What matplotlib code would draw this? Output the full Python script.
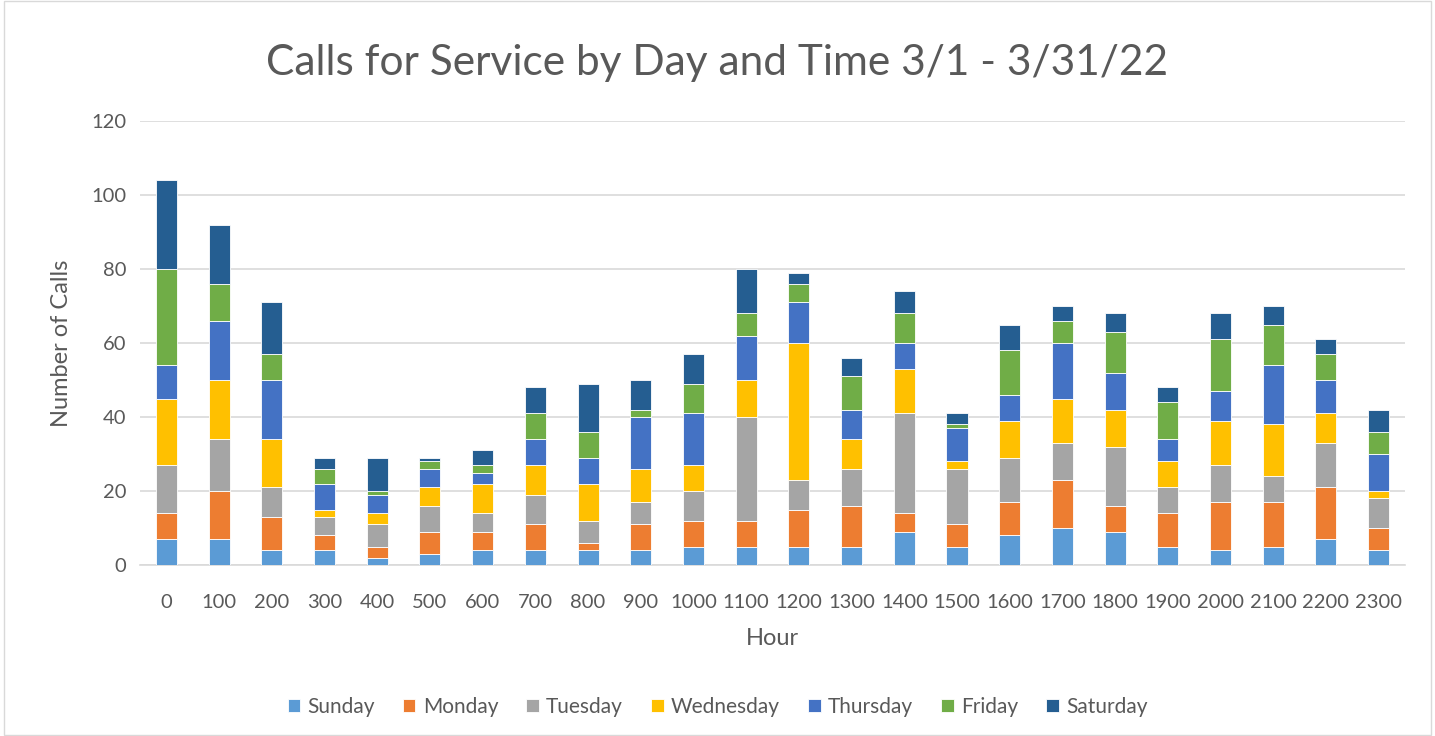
import matplotlib
matplotlib.use("Agg")
import matplotlib.pyplot as plt
import numpy as np

hours = ["0", "100", "200", "300", "400", "500", "600", "700", "800", "900", "1000", "1100",
         "1200", "1300", "1400", "1500", "1600", "1700", "1800", "1900", "2000", "2100", "2200", "2300"]
days = ["Sunday", "Monday", "Tuesday", "Wednesday", "Thursday", "Friday", "Saturday"]
colors = ["#5B9BD5", "#ED7D31", "#A5A5A5", "#FFC000", "#4472C4", "#70AD47", "#255E91"]

sunday = [7, 7, 4, 4, 2, 3, 4, 4, 4, 4, 5, 5, 5, 5, 9, 5, 8, 10, 9, 5, 4, 5, 7, 4]
monday = [7, 13, 9, 4, 3, 6, 5, 7, 2, 7, 7, 7, 10, 11, 5, 6, 9, 13, 7, 9, 13, 12, 14, 6]
tuesday = [13, 14, 8, 5, 6, 7, 5, 8, 6, 6, 8, 28, 8, 10, 27, 15, 12, 10, 16, 7, 10, 7, 12, 8]
wednesday = [18, 16, 13, 2, 3, 5, 8, 8, 10, 9, 7, 10, 37, 8, 12, 2, 10, 12, 10, 7, 12, 14, 8, 2]
thursday = [9, 16, 16, 7, 5, 5, 3, 7, 7, 14, 14, 12, 11, 8, 7, 9, 7, 15, 10, 6, 8, 16, 9, 10]
friday = [26, 10, 7, 4, 1, 2, 2, 7, 7, 2, 8, 6, 5, 9, 8, 1, 12, 6, 11, 10, 14, 11, 7, 6]
saturday = [24, 16, 14, 3, 9, 1, 4, 7, 13, 8, 8, 12, 3, 5, 6, 3, 7, 4, 5, 4, 7, 5, 4, 6]

series = [sunday, monday, tuesday, wednesday, thursday, friday, saturday]

plt.rcParams['font.family'] = ['Lato', 'DejaVu Sans']
text_color = "#595959"
grid_color = "#D9D9D9"

fig = plt.figure(figsize=(14.35, 7.36), dpi=100)
ax = fig.add_axes([0.0976, 0.2323, 0.8815, 0.6033])

x = np.arange(len(hours))
bottom = np.zeros(len(hours))
for name, vals, c in zip(days, series, colors):
    ax.bar(x, vals, width=0.4, bottom=bottom, color=c, label=name,
           edgecolor="white", linewidth=0.6, zorder=3)
    bottom += np.array(vals)

ax.set_xlim(-0.5, len(hours) - 0.5)
ax.set_ylim(0, 120)
ax.set_yticks(range(0, 121, 20))
ax.set_xticks(x)
ax.set_xticklabels(hours)
ax.grid(axis="y", color=grid_color, linewidth=1.2, zorder=0)
for s in ["top", "right", "left"]:
    ax.spines[s].set_visible(False)
ax.spines["bottom"].set_color(grid_color)
ax.spines["bottom"].set_linewidth(1.2)
ax.tick_params(length=0, labelsize=14.5, colors=text_color)
ax.tick_params(axis="x", pad=21)
ax.tick_params(axis="y", pad=10)

ax.set_ylabel("Number of Calls", fontsize=17, color=text_color, labelpad=14)
ax.set_xlabel("Hour", fontsize=17, color=text_color, labelpad=12)
fig.text(0.5, 0.915, "Calls for Service by Day and Time 3/1 - 3/31/22",
         ha="center", va="center", fontsize=30.5, color=text_color)

fig.legend(loc="center", bbox_to_anchor=(0.5, 0.04), ncol=7, frameon=False,
           fontsize=15, labelcolor=text_color, handlelength=0.6, handleheight=0.6,
           handletextpad=0.35, columnspacing=1.35)

fig.patches.append(plt.Rectangle((0.003, 0.002), 0.994, 0.996, transform=fig.transFigure,
                                 fill=False, edgecolor=grid_color, linewidth=1))

fig.savefig("out.png", dpi=100)
